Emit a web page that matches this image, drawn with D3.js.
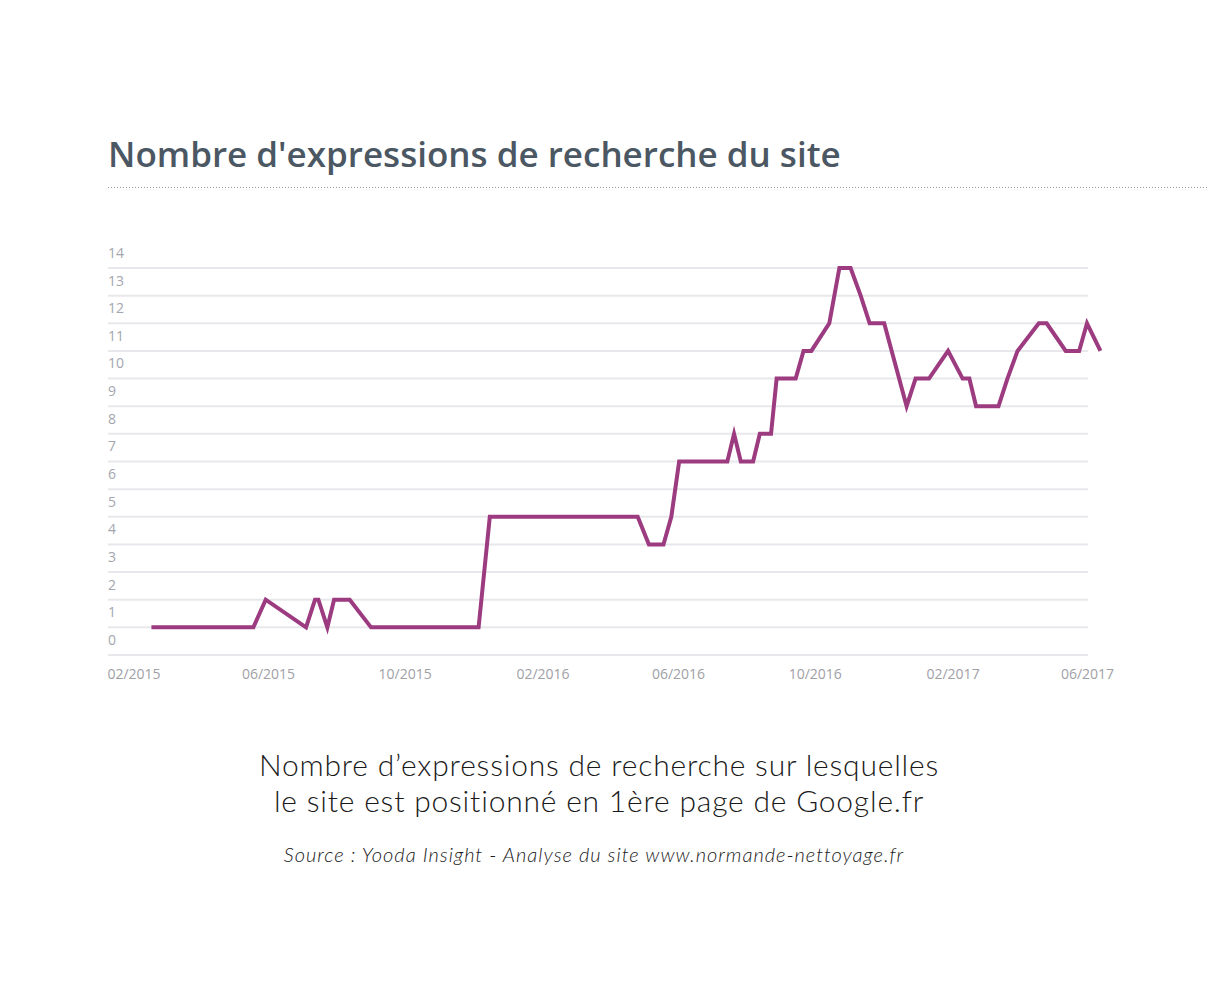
<!DOCTYPE html>
<html><head><meta charset="utf-8">
<script src="https://cdn.jsdelivr.net/npm/d3@7/dist/d3.min.js"></script>
<style>
html,body{margin:0;padding:0;background:#fff;}
svg{display:block;}
</style></head>
<body>
<svg id="c" width="1220" height="1000"></svg>
<script>
const titleText = "Nombre d'expressions de recherche du site";
const captionLines = ["Nombre d\u2019expressions de recherche sur lesquelles", "le site est positionné en 1ère page de Google.fr"];
const sourceText = "Source : Yooda Insight - Analyse du site www.normande-nettoyage.fr";

const dates = ["2015-02-17","2015-05-19","2015-05-30","2015-07-05","2015-07-13","2015-07-16","2015-07-24","2015-07-30","2015-08-13","2015-09-01","2015-12-06","2015-12-16","2016-04-26","2016-05-06","2016-05-19","2016-05-26","2016-06-02","2016-07-15","2016-07-21","2016-07-27","2016-08-07","2016-08-13","2016-08-23","2016-08-28","2016-09-14","2016-09-21","2016-09-28","2016-10-14","2016-10-23","2016-11-02","2016-11-11","2016-11-19","2016-12-02","2016-12-22","2016-12-30","2017-01-11","2017-01-28","2017-02-10","2017-02-16","2017-02-22","2017-03-14","2017-03-22","2017-03-31","2017-04-19","2017-04-26","2017-05-13","2017-05-25","2017-06-01","2017-06-13"];
const values = [1,1,2,1,2,2,1,2,2,1,1,5,5,4,4,5,7,7,8,7,7,8,8,10,10,11,11,12,14,14,13,12,12,9,10,10,11,10,10,9,9,10,11,12,12,11,11,12,11];
const yTicks = [0,1,2,3,4,5,6,7,8,9,10,11,12,13,14];
const xTickLabels = ["02/2015","06/2015","10/2015","02/2016","06/2016","10/2016","02/2017","06/2017"];

const parse = s => { const [y,m,d] = s.split("-").map(Number); return new Date(y, m-1, d); };
const parseTick = s => { const [m,y] = s.split("/").map(Number); return new Date(y, m-1, 1); };
const data = dates.map((d,i)=>({date: parse(d), value: values[i]}));

const svg = d3.select("#c");
const x = d3.scaleTime().domain([new Date(2015,1,1), new Date(2017,5,1)]).range([133.5, 1087]);
const y = d3.scaleLinear().domain([0,14]).range([655, 268]);
const gridX0 = 108, gridX1 = 1088;

// Title
svg.append("text").attr("x",108).attr("y",167)
  .attr("font-family","'Open Sans'").attr("font-weight",600).attr("font-size",35)
  .attr("fill","#4b5762").text(titleText);
svg.append("line").attr("x1",108).attr("x2",1208).attr("y1",187.5).attr("y2",187.5)
  .attr("stroke","#9a9a9a").attr("stroke-width",1).attr("stroke-dasharray","1,2");

// Grid
const g = svg.append("g");
g.selectAll("line.grid").data(yTicks).join("line").attr("class","grid")
  .attr("x1",gridX0).attr("x2",gridX1)
  .attr("y1",d=>y(d)).attr("y2",d=>y(d))
  .attr("stroke","#e8e8ec").attr("stroke-width",2);

// Y labels (above their gridline)
g.selectAll("text.yl").data(yTicks).join("text").attr("class","yl")
  .attr("x",108).attr("y",d=>y(d)-15).attr("dy","0.35em")
  .attr("font-family","'Open Sans'").attr("font-size",14).attr("fill","#a3a6ae")
  .text(d=>d);

// X axis
const xAxis = d3.axisBottom(x).tickValues(xTickLabels.map(parseTick)).tickSize(0).tickFormat(d3.timeFormat("%m/%Y"));
const ax = svg.append("g").attr("transform","translate(0,666)").call(xAxis);
ax.select(".domain").remove();
ax.selectAll("text").attr("font-family","'Open Sans'").attr("font-size",14).attr("fill","#a0a0a6");

// Line
const line = d3.line().x(d=>x(d.date)).y(d=>y(d.value));
svg.append("path").datum(data).attr("d",line)
  .attr("fill","none").attr("stroke","#9c3b80").attr("stroke-width",4)
  .attr("stroke-linejoin","miter").attr("stroke-miterlimit",10);

// Caption
svg.append("text").attr("x",599).attr("text-anchor","middle")
  .attr("font-family","Lato").attr("font-weight",300).attr("font-size",30).attr("letter-spacing",0.8).attr("fill","#1a1a1a")
  .selectAll("tspan").data(captionLines).join("tspan")
  .attr("x",599).attr("y",(d,i)=>776+i*36).text(d=>d);

svg.append("text").attr("x",594).attr("y",862).attr("text-anchor","middle")
  .attr("font-family","Lato").attr("font-weight",300).attr("font-style","italic").attr("font-size",20).attr("letter-spacing",1).attr("fill","#1a1a1a")
  .text(sourceText);
</script>
</body></html>
